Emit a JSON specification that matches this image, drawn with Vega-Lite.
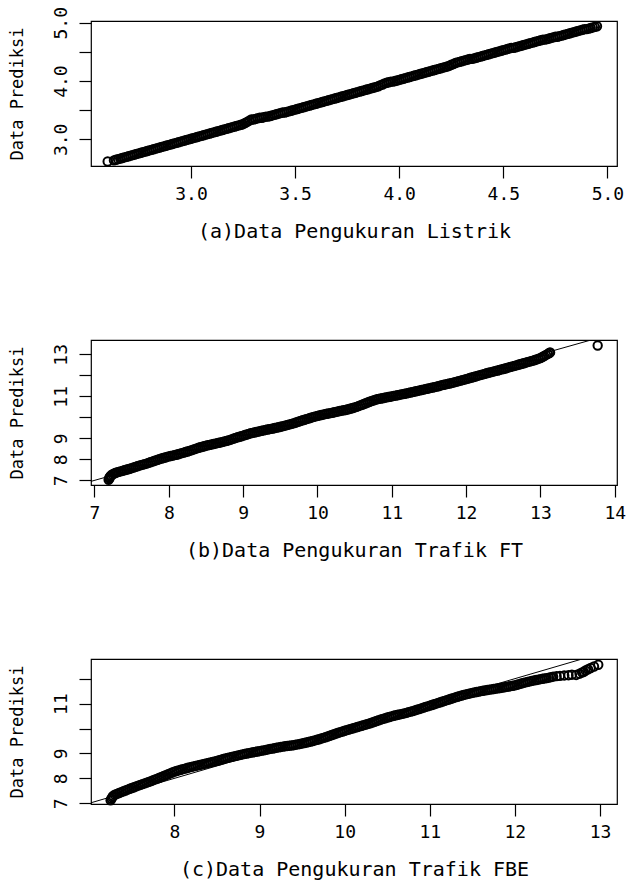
{
"$schema": "https://vega.github.io/schema/vega-lite/v6.json",
"background": "white",
"padding": {"left": 7, "top": 5, "right": 4, "bottom": 4},
"spacing": 174,
"bounds": "flush",
"config": {
  "view": {"stroke": "black", "strokeWidth": 1.2},
  "axis": {"domain": false, "grid": false, "tickColor": "black", "tickSize": 12, "tickWidth": 1.2,
    "labelFont": "DejaVu Sans Mono", "labelFontSize": 18, "labelColor": "black", "labelFlush": false, "labelOverlap": false, "labelBound": false,
    "titleFont": "DejaVu Sans Mono", "titleFontWeight": "normal", "titleColor": "black"},
  "axisX": {"labelPadding": 7, "titlePadding": 18, "titleFontSize": 20},
  "axisY": {"labelAngle": -90, "labelAlign": "center", "labelBaseline": "bottom", "labelPadding": 9, "titlePadding": 26, "titleFontSize": 17}
},
"datasets": {
"a": [{"x":2.60,"y":2.62},{"x":2.63,"y":2.64},{"x":2.64,"y":2.65},{"x":2.65,"y":2.66},{"x":2.66,"y":2.67},{"x":2.67,"y":2.68},{"x":2.68,"y":2.69},{"x":2.69,"y":2.70},{"x":2.70,"y":2.71},{"x":2.71,"y":2.72},{"x":2.72,"y":2.73},{"x":2.73,"y":2.74},{"x":2.74,"y":2.75},{"x":2.75,"y":2.76},{"x":2.76,"y":2.77},{"x":2.77,"y":2.78},{"x":2.78,"y":2.79},{"x":2.79,"y":2.80},{"x":2.80,"y":2.81},{"x":2.81,"y":2.82},{"x":2.82,"y":2.83},{"x":2.83,"y":2.84},{"x":2.84,"y":2.85},{"x":2.85,"y":2.86},{"x":2.86,"y":2.87},{"x":2.87,"y":2.88},{"x":2.88,"y":2.89},{"x":2.89,"y":2.90},{"x":2.90,"y":2.91},{"x":2.91,"y":2.92},{"x":2.92,"y":2.93},{"x":2.93,"y":2.94},{"x":2.94,"y":2.95},{"x":2.95,"y":2.96},{"x":2.96,"y":2.97},{"x":2.97,"y":2.98},{"x":2.98,"y":2.99},{"x":2.99,"y":3.00},{"x":3.00,"y":3.01},{"x":3.01,"y":3.02},{"x":3.02,"y":3.03},{"x":3.03,"y":3.04},{"x":3.04,"y":3.05},{"x":3.05,"y":3.06},{"x":3.06,"y":3.07},{"x":3.07,"y":3.08},{"x":3.08,"y":3.09},{"x":3.09,"y":3.10},{"x":3.10,"y":3.11},{"x":3.11,"y":3.12},{"x":3.12,"y":3.13},{"x":3.13,"y":3.14},{"x":3.14,"y":3.15},{"x":3.15,"y":3.16},{"x":3.16,"y":3.17},{"x":3.17,"y":3.18},{"x":3.18,"y":3.19},{"x":3.19,"y":3.20},{"x":3.20,"y":3.21},{"x":3.21,"y":3.22},{"x":3.22,"y":3.23},{"x":3.23,"y":3.24},{"x":3.24,"y":3.25},{"x":3.25,"y":3.26},{"x":3.26,"y":3.28},{"x":3.27,"y":3.30},{"x":3.28,"y":3.32},{"x":3.29,"y":3.34},{"x":3.30,"y":3.34},{"x":3.31,"y":3.35},{"x":3.32,"y":3.36},{"x":3.33,"y":3.37},{"x":3.34,"y":3.37},{"x":3.35,"y":3.38},{"x":3.36,"y":3.39},{"x":3.37,"y":3.39},{"x":3.38,"y":3.40},{"x":3.39,"y":3.41},{"x":3.40,"y":3.42},{"x":3.41,"y":3.43},{"x":3.42,"y":3.44},{"x":3.43,"y":3.45},{"x":3.44,"y":3.46},{"x":3.45,"y":3.46},{"x":3.46,"y":3.47},{"x":3.47,"y":3.48},{"x":3.48,"y":3.49},{"x":3.49,"y":3.50},{"x":3.50,"y":3.51},{"x":3.51,"y":3.52},{"x":3.52,"y":3.53},{"x":3.53,"y":3.54},{"x":3.54,"y":3.55},{"x":3.55,"y":3.56},{"x":3.56,"y":3.57},{"x":3.57,"y":3.58},{"x":3.58,"y":3.59},{"x":3.59,"y":3.60},{"x":3.60,"y":3.61},{"x":3.61,"y":3.62},{"x":3.62,"y":3.63},{"x":3.63,"y":3.64},{"x":3.64,"y":3.65},{"x":3.65,"y":3.66},{"x":3.66,"y":3.67},{"x":3.67,"y":3.68},{"x":3.68,"y":3.69},{"x":3.69,"y":3.70},{"x":3.70,"y":3.71},{"x":3.71,"y":3.72},{"x":3.72,"y":3.73},{"x":3.73,"y":3.74},{"x":3.74,"y":3.75},{"x":3.75,"y":3.76},{"x":3.76,"y":3.77},{"x":3.77,"y":3.78},{"x":3.78,"y":3.79},{"x":3.79,"y":3.80},{"x":3.80,"y":3.81},{"x":3.81,"y":3.82},{"x":3.82,"y":3.83},{"x":3.83,"y":3.84},{"x":3.84,"y":3.85},{"x":3.85,"y":3.86},{"x":3.86,"y":3.87},{"x":3.87,"y":3.88},{"x":3.88,"y":3.89},{"x":3.89,"y":3.90},{"x":3.90,"y":3.91},{"x":3.91,"y":3.93},{"x":3.92,"y":3.94},{"x":3.93,"y":3.96},{"x":3.94,"y":3.97},{"x":3.95,"y":3.98},{"x":3.96,"y":3.99},{"x":3.97,"y":3.99},{"x":3.98,"y":4.00},{"x":3.99,"y":4.01},{"x":4.00,"y":4.02},{"x":4.01,"y":4.03},{"x":4.02,"y":4.04},{"x":4.03,"y":4.05},{"x":4.04,"y":4.06},{"x":4.05,"y":4.07},{"x":4.06,"y":4.08},{"x":4.07,"y":4.09},{"x":4.08,"y":4.10},{"x":4.09,"y":4.11},{"x":4.10,"y":4.12},{"x":4.11,"y":4.13},{"x":4.12,"y":4.14},{"x":4.13,"y":4.15},{"x":4.14,"y":4.16},{"x":4.15,"y":4.17},{"x":4.16,"y":4.18},{"x":4.17,"y":4.19},{"x":4.18,"y":4.20},{"x":4.19,"y":4.21},{"x":4.20,"y":4.22},{"x":4.21,"y":4.23},{"x":4.22,"y":4.24},{"x":4.23,"y":4.25},{"x":4.24,"y":4.26},{"x":4.25,"y":4.28},{"x":4.26,"y":4.29},{"x":4.27,"y":4.31},{"x":4.28,"y":4.32},{"x":4.29,"y":4.33},{"x":4.30,"y":4.34},{"x":4.31,"y":4.35},{"x":4.32,"y":4.36},{"x":4.33,"y":4.37},{"x":4.34,"y":4.38},{"x":4.35,"y":4.38},{"x":4.36,"y":4.39},{"x":4.37,"y":4.40},{"x":4.38,"y":4.41},{"x":4.39,"y":4.42},{"x":4.40,"y":4.43},{"x":4.41,"y":4.44},{"x":4.42,"y":4.45},{"x":4.43,"y":4.46},{"x":4.44,"y":4.47},{"x":4.45,"y":4.48},{"x":4.46,"y":4.49},{"x":4.47,"y":4.50},{"x":4.48,"y":4.51},{"x":4.49,"y":4.52},{"x":4.50,"y":4.53},{"x":4.51,"y":4.54},{"x":4.52,"y":4.55},{"x":4.53,"y":4.56},{"x":4.54,"y":4.57},{"x":4.55,"y":4.57},{"x":4.56,"y":4.58},{"x":4.57,"y":4.59},{"x":4.58,"y":4.60},{"x":4.59,"y":4.61},{"x":4.60,"y":4.62},{"x":4.61,"y":4.63},{"x":4.62,"y":4.64},{"x":4.63,"y":4.65},{"x":4.64,"y":4.66},{"x":4.65,"y":4.67},{"x":4.66,"y":4.68},{"x":4.67,"y":4.69},{"x":4.68,"y":4.70},{"x":4.69,"y":4.71},{"x":4.70,"y":4.71},{"x":4.71,"y":4.72},{"x":4.72,"y":4.73},{"x":4.73,"y":4.74},{"x":4.74,"y":4.75},{"x":4.75,"y":4.76},{"x":4.76,"y":4.76},{"x":4.77,"y":4.77},{"x":4.78,"y":4.78},{"x":4.79,"y":4.79},{"x":4.80,"y":4.80},{"x":4.81,"y":4.81},{"x":4.82,"y":4.82},{"x":4.83,"y":4.83},{"x":4.84,"y":4.84},{"x":4.85,"y":4.85},{"x":4.86,"y":4.86},{"x":4.87,"y":4.87},{"x":4.88,"y":4.88},{"x":4.89,"y":4.89},{"x":4.90,"y":4.89},{"x":4.91,"y":4.90},{"x":4.92,"y":4.91},{"x":4.93,"y":4.92},{"x":4.94,"y":4.93},{"x":4.95,"y":4.94}],
"b": [{"x":7.19,"y":7.03},{"x":7.20,"y":7.08},{"x":7.20,"y":7.13},{"x":7.21,"y":7.18},{"x":7.22,"y":7.23},{"x":7.24,"y":7.28},{"x":7.26,"y":7.32},{"x":7.28,"y":7.35},{"x":7.30,"y":7.38},{"x":7.325,"y":7.405},{"x":7.35,"y":7.43},{"x":7.375,"y":7.455},{"x":7.4,"y":7.48},{"x":7.425,"y":7.505},{"x":7.45,"y":7.53},{"x":7.475,"y":7.555},{"x":7.5,"y":7.58},{"x":7.525,"y":7.61},{"x":7.55,"y":7.64},{"x":7.575,"y":7.67},{"x":7.6,"y":7.70},{"x":7.625,"y":7.725},{"x":7.65,"y":7.75},{"x":7.675,"y":7.775},{"x":7.7,"y":7.80},{"x":7.725,"y":7.83},{"x":7.75,"y":7.86},{"x":7.775,"y":7.89},{"x":7.8,"y":7.92},{"x":7.825,"y":7.95},{"x":7.85,"y":7.98},{"x":7.875,"y":8.01},{"x":7.9,"y":8.04},{"x":7.925,"y":8.065},{"x":7.95,"y":8.09},{"x":7.975,"y":8.115},{"x":8.0,"y":8.14},{"x":8.025,"y":8.16},{"x":8.05,"y":8.18},{"x":8.075,"y":8.20},{"x":8.1,"y":8.22},{"x":8.125,"y":8.245},{"x":8.15,"y":8.27},{"x":8.175,"y":8.295},{"x":8.2,"y":8.32},{"x":8.225,"y":8.35},{"x":8.25,"y":8.375},{"x":8.275,"y":8.40},{"x":8.3,"y":8.43},{"x":8.325,"y":8.46},{"x":8.35,"y":8.49},{"x":8.375,"y":8.52},{"x":8.4,"y":8.55},{"x":8.425,"y":8.575},{"x":8.45,"y":8.60},{"x":8.475,"y":8.625},{"x":8.5,"y":8.65},{"x":8.525,"y":8.67},{"x":8.55,"y":8.69},{"x":8.575,"y":8.71},{"x":8.6,"y":8.73},{"x":8.625,"y":8.75},{"x":8.65,"y":8.77},{"x":8.675,"y":8.79},{"x":8.7,"y":8.81},{"x":8.725,"y":8.83},{"x":8.75,"y":8.855},{"x":8.775,"y":8.88},{"x":8.8,"y":8.90},{"x":8.825,"y":8.93},{"x":8.85,"y":8.96},{"x":8.875,"y":8.99},{"x":8.9,"y":9.02},{"x":8.925,"y":9.05},{"x":8.95,"y":9.075},{"x":8.975,"y":9.10},{"x":9.0,"y":9.13},{"x":9.025,"y":9.16},{"x":9.05,"y":9.185},{"x":9.075,"y":9.21},{"x":9.1,"y":9.24},{"x":9.125,"y":9.26},{"x":9.15,"y":9.28},{"x":9.175,"y":9.30},{"x":9.2,"y":9.32},{"x":9.225,"y":9.34},{"x":9.25,"y":9.36},{"x":9.275,"y":9.38},{"x":9.3,"y":9.40},{"x":9.325,"y":9.42},{"x":9.35,"y":9.435},{"x":9.375,"y":9.45},{"x":9.4,"y":9.47},{"x":9.425,"y":9.49},{"x":9.45,"y":9.51},{"x":9.475,"y":9.53},{"x":9.5,"y":9.55},{"x":9.525,"y":9.57},{"x":9.55,"y":9.595},{"x":9.575,"y":9.62},{"x":9.6,"y":9.64},{"x":9.625,"y":9.665},{"x":9.65,"y":9.69},{"x":9.675,"y":9.715},{"x":9.7,"y":9.74},{"x":9.725,"y":9.77},{"x":9.75,"y":9.80},{"x":9.775,"y":9.83},{"x":9.8,"y":9.86},{"x":9.825,"y":9.885},{"x":9.85,"y":9.915},{"x":9.875,"y":9.94},{"x":9.9,"y":9.97},{"x":9.925,"y":9.995},{"x":9.95,"y":10.02},{"x":9.975,"y":10.045},{"x":10.0,"y":10.07},{"x":10.025,"y":10.09},{"x":10.05,"y":10.11},{"x":10.075,"y":10.13},{"x":10.1,"y":10.15},{"x":10.125,"y":10.17},{"x":10.15,"y":10.185},{"x":10.175,"y":10.20},{"x":10.2,"y":10.22},{"x":10.225,"y":10.24},{"x":10.25,"y":10.26},{"x":10.275,"y":10.28},{"x":10.3,"y":10.30},{"x":10.325,"y":10.32},{"x":10.35,"y":10.335},{"x":10.375,"y":10.35},{"x":10.4,"y":10.37},{"x":10.425,"y":10.395},{"x":10.45,"y":10.42},{"x":10.475,"y":10.445},{"x":10.5,"y":10.47},{"x":10.525,"y":10.50},{"x":10.55,"y":10.535},{"x":10.575,"y":10.57},{"x":10.6,"y":10.60},{"x":10.625,"y":10.635},{"x":10.65,"y":10.67},{"x":10.675,"y":10.705},{"x":10.7,"y":10.74},{"x":10.725,"y":10.77},{"x":10.75,"y":10.80},{"x":10.775,"y":10.83},{"x":10.8,"y":10.86},{"x":10.825,"y":10.88},{"x":10.85,"y":10.895},{"x":10.875,"y":10.91},{"x":10.9,"y":10.93},{"x":10.925,"y":10.95},{"x":10.95,"y":10.965},{"x":10.975,"y":10.98},{"x":11.0,"y":11.00},{"x":11.025,"y":11.02},{"x":11.05,"y":11.035},{"x":11.075,"y":11.05},{"x":11.1,"y":11.07},{"x":11.125,"y":11.09},{"x":11.15,"y":11.105},{"x":11.175,"y":11.12},{"x":11.2,"y":11.14},{"x":11.225,"y":11.16},{"x":11.25,"y":11.18},{"x":11.275,"y":11.20},{"x":11.3,"y":11.22},{"x":11.325,"y":11.24},{"x":11.35,"y":11.26},{"x":11.375,"y":11.28},{"x":11.4,"y":11.30},{"x":11.425,"y":11.32},{"x":11.45,"y":11.34},{"x":11.475,"y":11.36},{"x":11.5,"y":11.38},{"x":11.525,"y":11.40},{"x":11.55,"y":11.42},{"x":11.575,"y":11.44},{"x":11.6,"y":11.46},{"x":11.625,"y":11.48},{"x":11.65,"y":11.505},{"x":11.675,"y":11.53},{"x":11.7,"y":11.55},{"x":11.725,"y":11.57},{"x":11.75,"y":11.59},{"x":11.775,"y":11.61},{"x":11.8,"y":11.63},{"x":11.825,"y":11.65},{"x":11.85,"y":11.675},{"x":11.875,"y":11.70},{"x":11.9,"y":11.72},{"x":11.925,"y":11.745},{"x":11.95,"y":11.77},{"x":11.975,"y":11.795},{"x":12.0,"y":11.82},{"x":12.025,"y":11.845},{"x":12.05,"y":11.87},{"x":12.075,"y":11.895},{"x":12.1,"y":11.92},{"x":12.125,"y":11.945},{"x":12.15,"y":11.97},{"x":12.175,"y":11.995},{"x":12.2,"y":12.02},{"x":12.225,"y":12.045},{"x":12.25,"y":12.07},{"x":12.275,"y":12.095},{"x":12.3,"y":12.12},{"x":12.325,"y":12.14},{"x":12.35,"y":12.165},{"x":12.375,"y":12.19},{"x":12.4,"y":12.21},{"x":12.425,"y":12.23},{"x":12.45,"y":12.255},{"x":12.475,"y":12.28},{"x":12.5,"y":12.30},{"x":12.525,"y":12.325},{"x":12.55,"y":12.35},{"x":12.575,"y":12.375},{"x":12.6,"y":12.40},{"x":12.625,"y":12.425},{"x":12.65,"y":12.45},{"x":12.675,"y":12.475},{"x":12.7,"y":12.50},{"x":12.725,"y":12.525},{"x":12.75,"y":12.55},{"x":12.775,"y":12.575},{"x":12.8,"y":12.60},{"x":12.825,"y":12.625},{"x":12.85,"y":12.65},{"x":12.875,"y":12.675},{"x":12.9,"y":12.70},{"x":12.925,"y":12.73},{"x":12.95,"y":12.76},{"x":12.975,"y":12.79},{"x":13.0,"y":12.82},{"x":13.025,"y":12.87},{"x":13.05,"y":12.92},{"x":13.075,"y":12.97},{"x":13.1,"y":13.02},{"x":13.12,"y":13.06},{"x":13.13,"y":13.09},{"x":13.77,"y":13.42}],
"c": [{"x":7.25,"y":7.12},{"x":7.26,"y":7.18},{"x":7.27,"y":7.24},{"x":7.28,"y":7.29},{"x":7.30,"y":7.34},{"x":7.325,"y":7.375},{"x":7.35,"y":7.41},{"x":7.375,"y":7.445},{"x":7.4,"y":7.48},{"x":7.425,"y":7.51},{"x":7.45,"y":7.545},{"x":7.475,"y":7.58},{"x":7.5,"y":7.61},{"x":7.525,"y":7.64},{"x":7.55,"y":7.675},{"x":7.575,"y":7.71},{"x":7.6,"y":7.74},{"x":7.625,"y":7.77},{"x":7.65,"y":7.80},{"x":7.675,"y":7.83},{"x":7.7,"y":7.86},{"x":7.725,"y":7.89},{"x":7.75,"y":7.925},{"x":7.775,"y":7.96},{"x":7.8,"y":7.99},{"x":7.825,"y":8.025},{"x":7.85,"y":8.06},{"x":7.875,"y":8.095},{"x":7.9,"y":8.13},{"x":7.925,"y":8.165},{"x":7.95,"y":8.20},{"x":7.975,"y":8.235},{"x":8.0,"y":8.27},{"x":8.025,"y":8.295},{"x":8.05,"y":8.32},{"x":8.075,"y":8.345},{"x":8.1,"y":8.37},{"x":8.125,"y":8.39},{"x":8.15,"y":8.415},{"x":8.175,"y":8.44},{"x":8.2,"y":8.46},{"x":8.225,"y":8.48},{"x":8.25,"y":8.50},{"x":8.275,"y":8.52},{"x":8.3,"y":8.54},{"x":8.325,"y":8.56},{"x":8.35,"y":8.58},{"x":8.375,"y":8.60},{"x":8.4,"y":8.62},{"x":8.425,"y":8.64},{"x":8.45,"y":8.66},{"x":8.475,"y":8.68},{"x":8.5,"y":8.70},{"x":8.525,"y":8.725},{"x":8.55,"y":8.75},{"x":8.575,"y":8.775},{"x":8.6,"y":8.80},{"x":8.625,"y":8.82},{"x":8.65,"y":8.84},{"x":8.675,"y":8.86},{"x":8.7,"y":8.88},{"x":8.725,"y":8.90},{"x":8.75,"y":8.92},{"x":8.775,"y":8.94},{"x":8.8,"y":8.96},{"x":8.825,"y":8.98},{"x":8.85,"y":8.995},{"x":8.875,"y":9.01},{"x":8.9,"y":9.03},{"x":8.925,"y":9.045},{"x":8.95,"y":9.06},{"x":8.975,"y":9.075},{"x":9.0,"y":9.09},{"x":9.025,"y":9.11},{"x":9.05,"y":9.125},{"x":9.075,"y":9.14},{"x":9.1,"y":9.16},{"x":9.125,"y":9.18},{"x":9.15,"y":9.195},{"x":9.175,"y":9.21},{"x":9.2,"y":9.23},{"x":9.225,"y":9.245},{"x":9.25,"y":9.26},{"x":9.275,"y":9.275},{"x":9.3,"y":9.29},{"x":9.325,"y":9.30},{"x":9.35,"y":9.31},{"x":9.375,"y":9.32},{"x":9.4,"y":9.33},{"x":9.425,"y":9.35},{"x":9.45,"y":9.365},{"x":9.475,"y":9.38},{"x":9.5,"y":9.40},{"x":9.525,"y":9.42},{"x":9.55,"y":9.44},{"x":9.575,"y":9.46},{"x":9.6,"y":9.48},{"x":9.625,"y":9.50},{"x":9.65,"y":9.525},{"x":9.675,"y":9.55},{"x":9.7,"y":9.57},{"x":9.725,"y":9.60},{"x":9.75,"y":9.625},{"x":9.775,"y":9.65},{"x":9.8,"y":9.68},{"x":9.825,"y":9.71},{"x":9.85,"y":9.74},{"x":9.875,"y":9.77},{"x":9.9,"y":9.80},{"x":9.925,"y":9.83},{"x":9.95,"y":9.855},{"x":9.975,"y":9.88},{"x":10.0,"y":9.91},{"x":10.025,"y":9.935},{"x":10.05,"y":9.96},{"x":10.075,"y":9.985},{"x":10.1,"y":10.01},{"x":10.125,"y":10.035},{"x":10.15,"y":10.06},{"x":10.175,"y":10.085},{"x":10.2,"y":10.11},{"x":10.225,"y":10.135},{"x":10.25,"y":10.16},{"x":10.275,"y":10.185},{"x":10.3,"y":10.21},{"x":10.325,"y":10.24},{"x":10.35,"y":10.27},{"x":10.375,"y":10.30},{"x":10.4,"y":10.33},{"x":10.425,"y":10.36},{"x":10.45,"y":10.385},{"x":10.475,"y":10.41},{"x":10.5,"y":10.44},{"x":10.525,"y":10.46},{"x":10.55,"y":10.485},{"x":10.575,"y":10.51},{"x":10.6,"y":10.53},{"x":10.625,"y":10.55},{"x":10.65,"y":10.57},{"x":10.675,"y":10.59},{"x":10.7,"y":10.61},{"x":10.725,"y":10.63},{"x":10.75,"y":10.655},{"x":10.775,"y":10.68},{"x":10.8,"y":10.70},{"x":10.825,"y":10.73},{"x":10.85,"y":10.755},{"x":10.875,"y":10.78},{"x":10.9,"y":10.81},{"x":10.925,"y":10.835},{"x":10.95,"y":10.865},{"x":10.975,"y":10.89},{"x":11.0,"y":10.92},{"x":11.025,"y":10.945},{"x":11.05,"y":10.975},{"x":11.075,"y":11.00},{"x":11.1,"y":11.03},{"x":11.125,"y":11.055},{"x":11.15,"y":11.085},{"x":11.175,"y":11.11},{"x":11.2,"y":11.14},{"x":11.225,"y":11.165},{"x":11.25,"y":11.195},{"x":11.275,"y":11.22},{"x":11.3,"y":11.25},{"x":11.325,"y":11.275},{"x":11.35,"y":11.30},{"x":11.375,"y":11.325},{"x":11.4,"y":11.35},{"x":11.425,"y":11.37},{"x":11.45,"y":11.39},{"x":11.475,"y":11.41},{"x":11.5,"y":11.43},{"x":11.525,"y":11.45},{"x":11.55,"y":11.465},{"x":11.575,"y":11.48},{"x":11.6,"y":11.50},{"x":11.625,"y":11.515},{"x":11.65,"y":11.53},{"x":11.675,"y":11.545},{"x":11.7,"y":11.56},{"x":11.725,"y":11.57},{"x":11.75,"y":11.585},{"x":11.775,"y":11.60},{"x":11.8,"y":11.61},{"x":11.825,"y":11.625},{"x":11.85,"y":11.64},{"x":11.875,"y":11.655},{"x":11.9,"y":11.67},{"x":11.925,"y":11.685},{"x":11.95,"y":11.70},{"x":11.975,"y":11.715},{"x":12.0,"y":11.73},{"x":12.025,"y":11.755},{"x":12.05,"y":11.78},{"x":12.075,"y":11.805},{"x":12.1,"y":11.83},{"x":12.125,"y":11.85},{"x":12.15,"y":11.87},{"x":12.175,"y":11.89},{"x":12.2,"y":11.91},{"x":12.225,"y":11.93},{"x":12.25,"y":11.945},{"x":12.275,"y":11.96},{"x":12.3,"y":11.98},{"x":12.325,"y":11.995},{"x":12.35,"y":12.01},{"x":12.375,"y":12.025},{"x":12.4,"y":12.04},{"x":12.425,"y":12.06},{"x":12.45,"y":12.08},{"x":12.49,"y":12.10},{"x":12.53,"y":12.11},{"x":12.58,"y":12.13},{"x":12.63,"y":12.14},{"x":12.67,"y":12.16},{"x":12.72,"y":12.15},{"x":12.76,"y":12.20},{"x":12.79,"y":12.25},{"x":12.81,"y":12.27},{"x":12.83,"y":12.33},{"x":12.86,"y":12.38},{"x":12.89,"y":12.43},{"x":12.93,"y":12.49},{"x":12.98,"y":12.56}],
"ref": [{"x":6.0,"y":6.0},{"x":15.0,"y":15.0}]
},
"vconcat": [
  {
    "width": 526, "height": 145,
    "data": {"name": "a"},
    "mark": {"type": "point", "shape": "circle", "filled": false, "color": "black", "size": 70, "strokeWidth": 2, "opacity": 1},
    "encoding": {
      "x": {"field": "x", "type": "quantitative", "scale": {"domain": [2.52, 5.046], "zero": false, "nice": false},
        "axis": {"title": "(a)Data Pengukuran Listrik", "values": [3.0, 3.5, 4.0, 4.5, 5.0], "format": ".1f"}},
      "y": {"field": "y", "type": "quantitative", "scale": {"domain": [2.543, 5.03], "zero": false, "nice": false},
        "axis": {"title": "Data Prediksi", "values": [3.0, 3.5, 4.0, 4.5, 5.0], "labelExpr": "datum.value == 3.5 || datum.value == 4.5 ? '' : format(datum.value, '.1f')"}}
    }
  },
  {
    "width": 526, "height": 145,
    "encoding": {
      "x": {"field": "x", "type": "quantitative", "scale": {"domain": [6.953, 14.03], "zero": false, "nice": false},
        "axis": {"title": "(b)Data Pengukuran Trafik FT", "values": [7, 8, 9, 10, 11, 12, 13, 14]}},
      "y": {"field": "y", "type": "quantitative", "scale": {"domain": [6.78, 13.68], "zero": false, "nice": false},
        "axis": {"title": "Data Prediksi", "values": [7, 8, 9, 10, 11, 12, 13], "labelExpr": "datum.value == 10 || datum.value == 12 ? '' : datum.label"}}
    },
    "layer": [
      {"data": {"name": "ref"}, "mark": {"type": "line", "clip": true, "color": "black", "strokeWidth": 1}},
      {"data": {"name": "b"}, "mark": {"type": "point", "shape": "circle", "filled": false, "color": "black", "size": 70, "strokeWidth": 2, "opacity": 1}}
    ]
  },
  {
    "width": 526, "height": 145,
    "encoding": {
      "x": {"field": "x", "type": "quantitative", "scale": {"domain": [7.02, 13.2], "zero": false, "nice": false},
        "axis": {"title": "(c)Data Pengukuran Trafik FBE", "values": [8, 9, 10, 11, 12, 13]}},
      "y": {"field": "y", "type": "quantitative", "scale": {"domain": [6.97, 12.79], "zero": false, "nice": false},
        "axis": {"title": "Data Prediksi", "values": [7, 8, 9, 10, 11, 12], "labelExpr": "datum.value == 10 || datum.value == 12 ? '' : datum.label"}}
    },
    "layer": [
      {"data": {"name": "ref"}, "mark": {"type": "line", "clip": true, "color": "black", "strokeWidth": 1}},
      {"data": {"name": "c"}, "mark": {"type": "point", "shape": "circle", "filled": false, "color": "black", "size": 70, "strokeWidth": 2, "opacity": 1}}
    ]
  }
]
}
